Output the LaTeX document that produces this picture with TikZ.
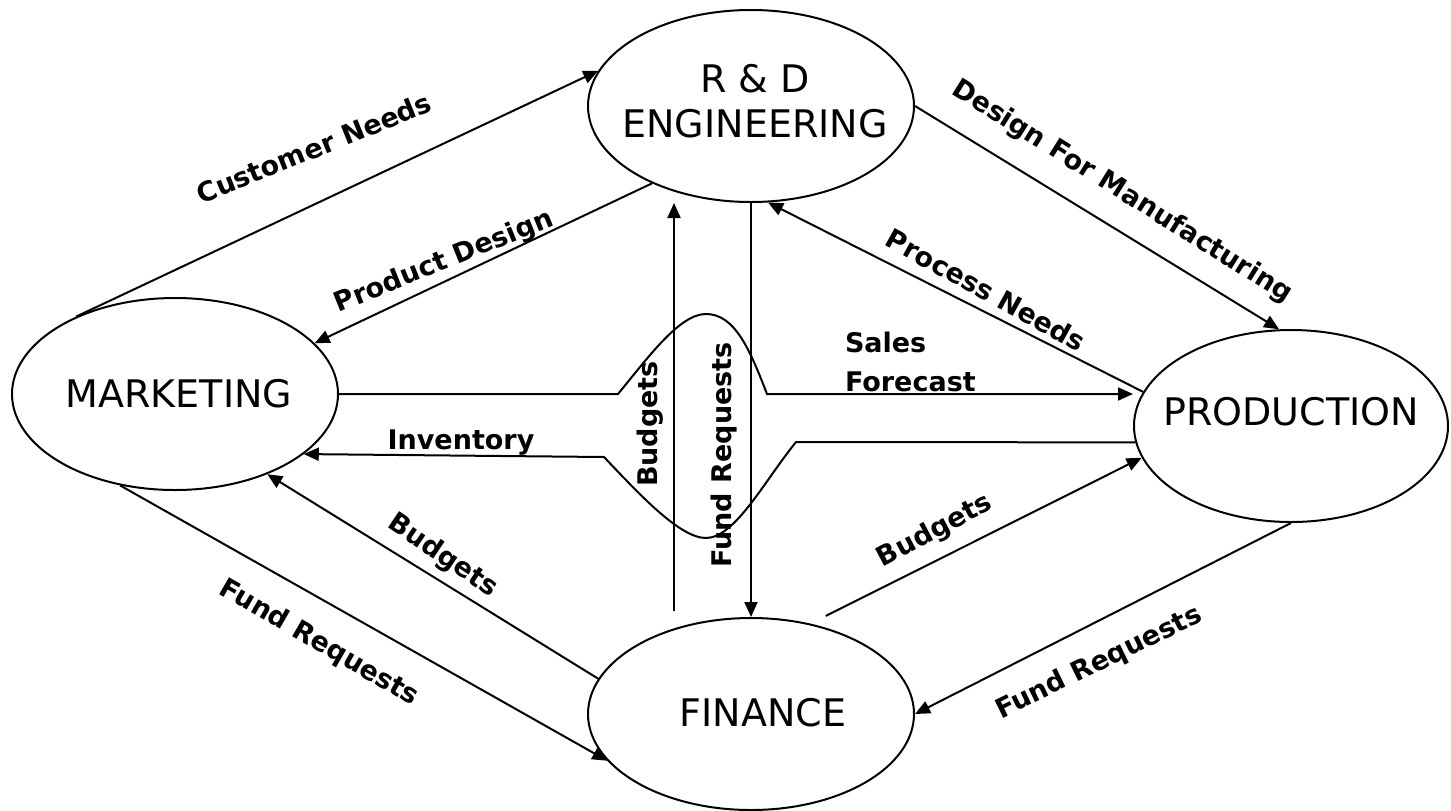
\documentclass[tikz,border=0pt]{standalone}
\usepackage{fontspec}
\setmainfont{DejaVu Sans}
\usetikzlibrary{arrows.meta,shapes.geometric,calc}
\begin{document}
\begin{tikzpicture}[x=0.5pt,y=-0.5pt, line width=1pt,
  dept/.style={draw, ellipse, minimum width=163pt, minimum height=96pt, inner sep=0pt},
  depttext/.style={font=\fontsize{19}{22.5}\selectfont, align=center, inner sep=0pt},
  lbl/.style={font=\bfseries\fontsize{13.5}{19.5}\selectfont, inner sep=0pt},
  arr/.style={-{Triangle[length=7.5pt,width=6.5pt]}},
]
\useasboundingbox (0,0) rectangle (1451,810);
% departments
\node[dept] (rd) at (751,106) {};
\node[dept] (mkt) at (175,394) {};
\node[dept, minimum width=157pt] (prod) at (1291,426) {};
\node[dept] (fin) at (751,714) {};
\node[depttext] (rdt) at (755,101) {R \& D\\ENGINEERING};
\node[depttext] (mktt) at (179,394) {MARKETING};
\node[depttext] (prodt) at (1291,412) {PRODUCTION};
\node[depttext] (fint) at (763,713) {FINANCE};
% free ends a little off the ellipses
\coordinate (budstart) at ($(fin.north)+(-77,-6)$);
\coordinate (bfpstart) at ($(fin.52)+(6,-10)$);
% connectors
\draw[arr] (mkt.142) -- (rd.167);
\draw[arr] (rd.218) -- (mkt.20);
\draw[arr] (budstart) -- (budstart |- rd.south);
\draw[arr] (rd.south) -- (fin.north);
\draw[arr] (rd.east) -- (prod.97);
\draw[arr] (prod.167) -- (rd.280);
\draw[arr] (mkt.east) -- (618,394) .. controls (650,355) and (680,314) .. (706,314)
  .. controls (735,314) and (750,350) .. (767,394) -- (mkt.east -| prod.west);
\draw[arr] (prod.186) -- (796,442) .. controls (765,480) and (735,538) .. (706,538)
  .. controls (680,538) and (640,495) .. (604,457) -- (mkt.-25);
\draw[arr] (fin.167) -- (mkt.319);
\draw[arr] (mkt.239) -- (fin.198);
\draw[arr] (bfpstart) -- (prod.192);
\draw[arr] (prod.south) -- (fin.east);
% labels
\node[lbl, rotate=22] (l1) at (314,148) {Customer Needs};
\node[lbl, rotate=22] (l2) at (444,262) {Product Design};
\node[lbl, rotate=-32] (l3) at (1122,192) {Design For Manufacturing};
\node[lbl, rotate=-29] (l4) at (986,290) {Process Needs};
\node[lbl, align=left, anchor=north west] (l5) at (844,331) {Sales\\Forecast};
\node[lbl] (l6) at (461,443) {Inventory};
\node[lbl, rotate=90] (l7) at (650,424) {Budgets};
\node[lbl, rotate=90] (l8) at (724,455) {Fund Requests};
\node[lbl, rotate=-34] (l9) at (443,556) {Budgets};
\node[lbl, rotate=-30] (l10) at (319,643) {Fund Requests};
\node[lbl, rotate=28] (l11) at (935,531) {Budgets};
\node[lbl, rotate=26] (l12) at (1099,663) {Fund Requests};
\end{tikzpicture}
\end{document}
